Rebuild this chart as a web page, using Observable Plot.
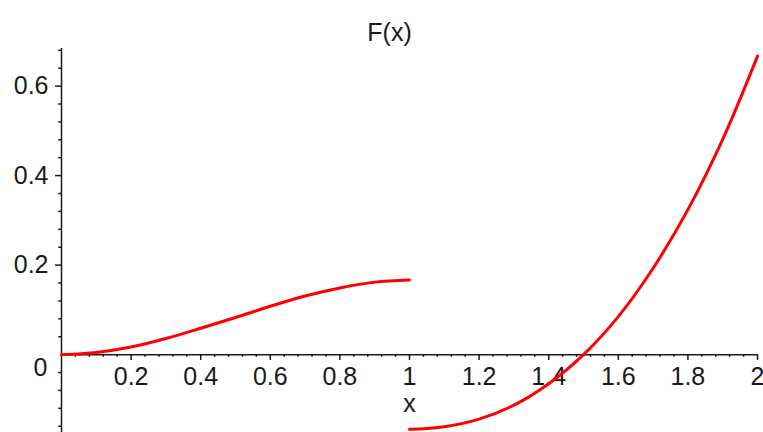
<!DOCTYPE html>
<html><head><meta charset="utf-8">
<script src="https://cdn.jsdelivr.net/npm/d3@7"></script>
<script src="https://cdn.jsdelivr.net/npm/@observablehq/plot@0.6"></script>
<style>body{margin:0;background:#fff}</style>
</head><body><div id="chart"></div>
<script>
// Left branch (0 ≤ x ≤ 1)
const xLeft = [0, 0.1, 0.2, 0.3, 0.4, 0.5, 0.6, 0.7, 0.8, 0.9, 1.0];
const fLeft = [0, 0.005, 0.017, 0.036, 0.059, 0.083, 0.108, 0.131, 0.149, 0.162, 0.167];
// Right branch (1 ≤ x ≤ 2)
const xRight = [1.0, 1.1, 1.2, 1.3, 1.4, 1.5, 1.6, 1.7, 1.8, 1.9, 2.0];
const fRight = [-0.167, -0.161, -0.144, -0.113, -0.065, 0, 0.085, 0.193, 0.324, 0.481, 0.667];

const xMajor = [0.2, 0.4, 0.6, 0.8, 1, 1.2, 1.4, 1.6, 1.8, 2];
const xLabels = ["0.2", "0.4", "0.6", "0.8", "1", "1.2", "1.4", "1.6", "1.8", "2"];
const yMajor = [0.2, 0.4, 0.6];
const yLabels = ["0.2", "0.4", "0.6"];
const titleText = "F(x)";
const xName = "x";
const zeroLabel = "0";

const isMajor = (v, arr) => arr.some(m => Math.abs(m - v) < 1e-9) || Math.abs(v) < 1e-9;
const xMinor = d3.range(1, 51).map(i => +(i * 0.04).toFixed(2)).filter(v => !isMajor(v, xMajor));
const yMinor = d3.range(-4, 18).map(i => +(i * 0.04).toFixed(2)).filter(v => !isMajor(v, yMajor));

const left = xLeft.map((x, i) => ({x, y: fLeft[i]}));
const right = xRight.map((x, i) => ({x, y: fRight[i]}));

const ink = "#1a1a1a";
const chart = Plot.plot({
  width: 763, height: 432,
  marginLeft: 61, marginRight: 6, marginTop: 48, marginBottom: 0,
  x: {domain: [0, 2], axis: null},
  y: {domain: [-0.174, 0.684], axis: null},
  style: {fontFamily: "'Liberation Sans', Arial, sans-serif", background: "#fff", color: ink},
  marks: [
    Plot.ruleY([0], {stroke: ink, strokeWidth: 1.5}),
    Plot.ruleX([0], {stroke: ink, strokeWidth: 1.5}),
    Plot.ruleX(xMajor, {x: d => d, y1: () => 0, y2: () => -0.013, stroke: ink, strokeWidth: 1.5}),
    Plot.ruleX(xMinor, {x: d => d, y1: () => 0, y2: () => -0.006, stroke: ink, strokeWidth: 1.5}),
    Plot.ruleY(yMajor, {y: d => d, x1: () => 0, x2: () => -0.017, stroke: ink, strokeWidth: 1.5}),
    Plot.ruleY(yMinor, {y: d => d, x1: () => 0, x2: () => -0.008, stroke: ink, strokeWidth: 1.5}),
    Plot.text(xMajor, {x: d => d, y: () => 0, text: (d, i) => xLabels[i], dy: 22, fontSize: 25, fill: ink}),
    Plot.text(yMajor, {x: () => 0, y: d => d, text: (d, i) => yLabels[i], textAnchor: "end", dx: -13, fontSize: 25, fill: ink}),
    Plot.text([zeroLabel], {x: () => 0, y: () => 0, text: d => d, textAnchor: "end", dx: -14, dy: 13, fontSize: 25, fill: ink}),
    Plot.text([xName], {x: () => 1, y: () => 0, text: d => d, dy: 49, fontSize: 25, fill: ink}),
    Plot.text([titleText], {frameAnchor: "top", text: d => d, dx: -20, dy: -25, fontSize: 25, fill: ink}),
    Plot.line(left, {x: "x", y: "y", stroke: "#ff0000", strokeWidth: 3, curve: "catmull-rom"}),
    Plot.line(right, {x: "x", y: "y", stroke: "#ff0000", strokeWidth: 3, curve: "catmull-rom"})
  ]
});
document.getElementById("chart").append(chart);
</script>
</body></html>
